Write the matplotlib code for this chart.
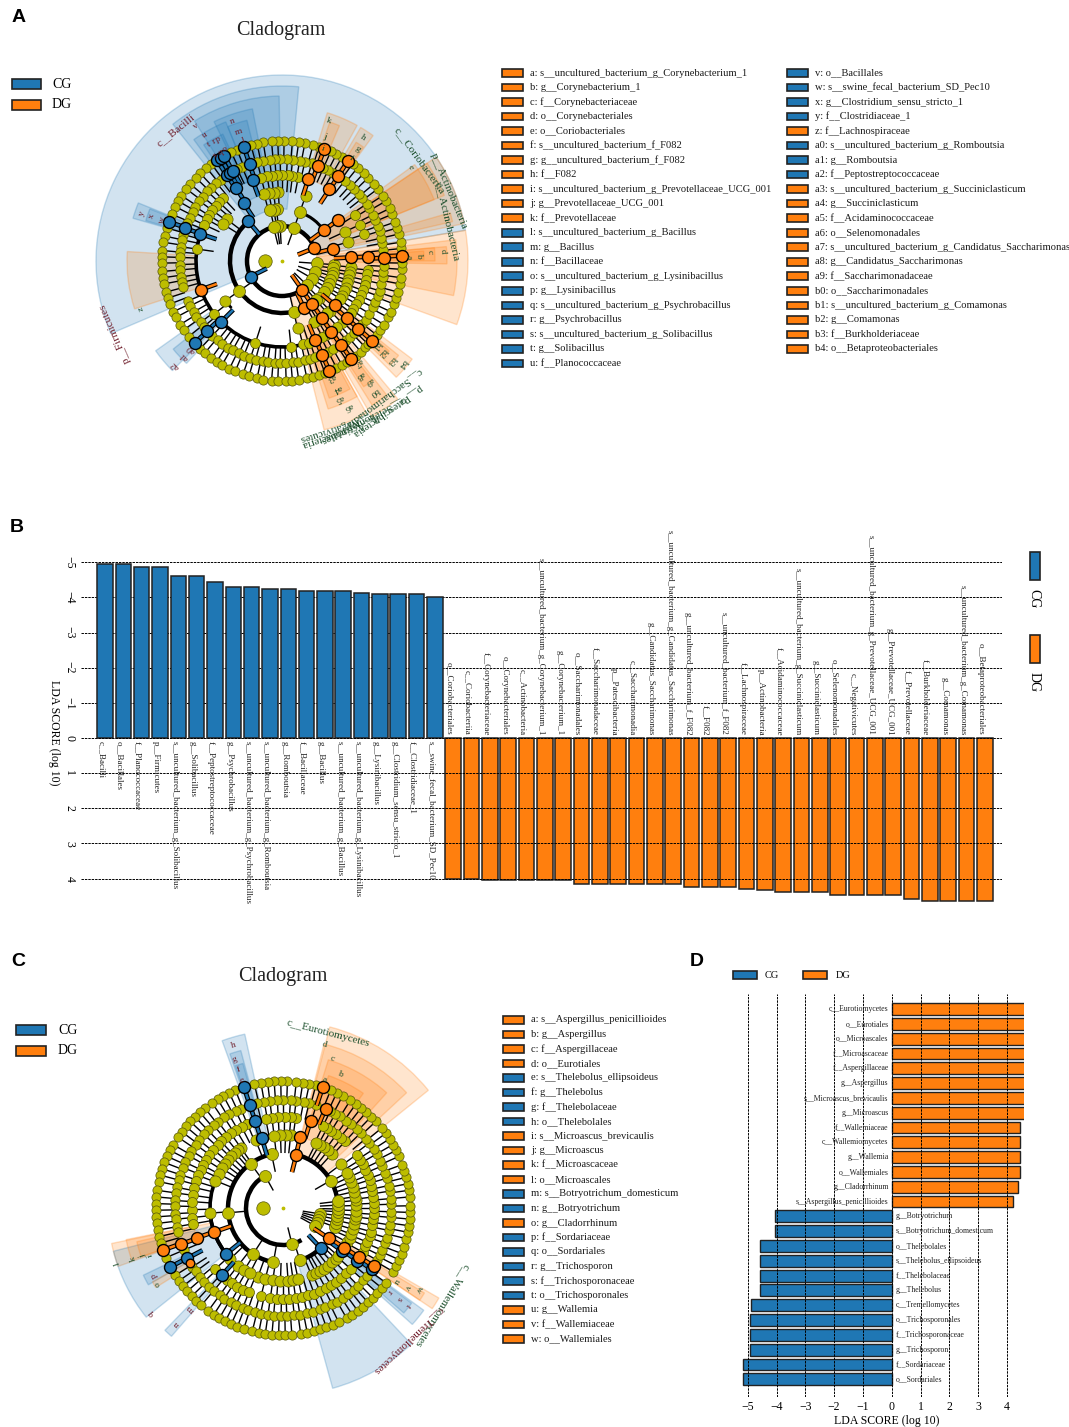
import matplotlib
matplotlib.use('Agg')
import numpy as np
import matplotlib.pyplot as plt
from matplotlib.patches import Wedge, Arc, Rectangle
from matplotlib.collections import LineCollection
from matplotlib.colors import to_rgba

plt.rcParams['font.family'] = ['Liberation Serif', 'DejaVu Serif']

W, H = 1069, 1427
BLUE = '#1f77b4'
ORANGE = '#ff7f0e'
OLIVE = '#bdbd00'
RED_TXT = '#6f1d2a'
GREEN_TXT = '#1c4f2c'

# ---- panel A legend
a_legend_1 = ['a: s__uncultured_bacterium_g_Corynebacterium_1', 'b: g__Corynebacterium_1',
              'c: f__Corynebacteriaceae', 'd: o__Corynebacteriales', 'e: o__Coriobacteriales',
              'f: s__uncultured_bacterium_f_F082', 'g: g__uncultured_bacterium_f_F082', 'h: f__F082',
              'i: s__uncultured_bacterium_g_Prevotellaceae_UCG_001', 'j: g__Prevotellaceae_UCG_001',
              'k: f__Prevotellaceae', 'l: s__uncultured_bacterium_g_Bacillus', 'm: g__Bacillus',
              'n: f__Bacillaceae', 'o: s__uncultured_bacterium_g_Lysinibacillus', 'p: g__Lysinibacillus',
              'q: s__uncultured_bacterium_g_Psychrobacillus', 'r: g__Psychrobacillus',
              's: s__uncultured_bacterium_g_Solibacillus', 't: g__Solibacillus', 'u: f__Planococcaceae']
a_groups_1 = 'DDDDDDDDDDDCCCCCCCCCC'
a_legend_2 = ['v: o__Bacillales', 'w: s__swine_fecal_bacterium_SD_Pec10', 'x: g__Clostridium_sensu_stricto_1',
              'y: f__Clostridiaceae_1', 'z: f__Lachnospiraceae', 'a0: s__uncultured_bacterium_g_Romboutsia',
              'a1: g__Romboutsia', 'a2: f__Peptostreptococcaceae', 'a3: s__uncultured_bacterium_g_Succiniclasticum',
              'a4: g__Succiniclasticum', 'a5: f__Acidaminococcaceae', 'a6: o__Selenomonadales',
              'a7: s__uncultured_bacterium_g_Candidatus_Saccharimonas', 'a8: g__Candidatus_Saccharimonas',
              'a9: f__Saccharimonadaceae', 'b0: o__Saccharimonadales', 'b1: s__uncultured_bacterium_g_Comamonas',
              'b2: g__Comamonas', 'b3: f__Burkholderiaceae', 'b4: o__Betaproteobacteriales']
a_groups_2 = 'CCCCDCCCDDDDDDDDDDDD'

# ---- panel C legend
c_legend = ['a: s__Aspergillus_penicillioides', 'b: g__Aspergillus', 'c: f__Aspergillaceae', 'd: o__Eurotiales',
            'e: s__Thelebolus_ellipsoideus', 'f: g__Thelebolus', 'g: f__Thelebolaceae', 'h: o__Thelebolales',
            'i: s__Microascus_brevicaulis', 'j: g__Microascus', 'k: f__Microascaceae', 'l: o__Microascales',
            'm: s__Botryotrichum_domesticum', 'n: g__Botryotrichum', 'o: g__Cladorrhinum', 'p: f__Sordariaceae',
            'q: o__Sordariales', 'r: g__Trichosporon', 's: f__Trichosporonaceae', 't: o__Trichosporonales',
            'u: g__Wallemia', 'v: f__Wallemiaceae', 'w: o__Wallemiales']
c_groups = 'DDDDCCCCDDDDCCDCCCCCDDD'

# ---- panel B bars
b_cg_names = ['c__Bacilli', 'o__Bacillales', 'f__Planococcaceae', 'p__Firmicutes',
              's__uncultured_bacterium_g_Solibacillus', 'g__Solibacillus', 'f__Peptostreptococcaceae',
              'g__Psychrobacillus', 's__uncultured_bacterium_g_Psychrobacillus',
              's__uncultured_bacterium_g_Romboutsia', 'g__Romboutsia', 'f__Bacillaceae', 'g__Bacillus',
              's__uncultured_bacterium_g_Bacillus', 's__uncultured_bacterium_g_Lysinibacillus',
              'g__Lysinibacillus', 'g__Clostridium_sensu_stricto_1', 'f__Clostridiaceae_1',
              's__swine_fecal_bacterium_SD_Pec10']
b_cg_values = [-4.96, -4.96, -4.87, -4.87, -4.60, -4.60, -4.43, -4.30, -4.30, -4.24, -4.24, -4.19, -4.19,
               -4.19, -4.12, -4.11, -4.10, -4.10, -4.01]
b_dg_names = ['o__Coriobacteriales', 'c__Coriobacteriia', 'f__Corynebacteriaceae', 'o__Corynebacteriales',
              'c__Actinobacteria', 's__uncultured_bacterium_g_Corynebacterium_1', 'g__Corynebacterium_1',
              'o__Saccharimonadales', 'f__Saccharimonadaceae', 'p__Patescibacteria', 'c__Saccharimonadia',
              'g__Candidatus_Saccharimonas', 's__uncultured_bacterium_g_Candidatus_Saccharimonas',
              'g__uncultured_bacterium_f_F082', 'f__F082', 's__uncultured_bacterium_f_F082', 'f__Lachnospiraceae',
              'p__Actinobacteria', 'f__Acidaminococcaceae', 's__uncultured_bacterium_g_Succiniclasticum',
              'g__Succiniclasticum', 'o__Selenomonadales', 'c__Negativicutes',
              's__uncultured_bacterium_g_Prevotellaceae_UCG_001', 'g__Prevotellaceae_UCG_001', 'f__Prevotellaceae',
              'f__Burkholderiaceae', 'g__Comamonas', 's__uncultured_bacterium_g_Comamonas',
              'o__Betaproteobacteriales']
b_dg_values = [4.01, 4.01, 4.03, 4.03, 4.03, 4.03, 4.05, 4.16, 4.16, 4.16, 4.16, 4.16, 4.16, 4.23, 4.23, 4.23,
               4.31, 4.33, 4.39, 4.39, 4.39, 4.47, 4.47, 4.47, 4.47, 4.58, 4.63, 4.63, 4.63, 4.65]

# ---- panel D bars, top to bottom
d_names = ['c__Eurotiomycetes', 'o__Eurotiales', 'o__Microascales', 'f__Microascaceae', 'f__Aspergillaceae',
           'g__Aspergillus', 's__Microascus_brevicaulis', 'g__Microascus', 'f__Wallemiaceae', 'c__Wallemiomycetes',
           'g__Wallemia', 'o__Wallemiales', 'g__Cladorrhinum', 's__Aspergillus_penicillioides', 'g__Botryotrichum',
           's__Botryotrichum_domesticum', 'o__Thelebolales', 's__Thelebolus_ellipsoideus', 'f__Thelebolaceae',
           'g__Thelebolus', 'c__Tremellomycetes', 'o__Trichosporonales', 'f__Trichosporonaceae', 'g__Trichosporon',
           'f__Sordariaceae', 'o__Sordariales']
d_values = [4.83, 4.83, 4.83, 4.83, 4.81, 4.76, 4.73, 4.73, 4.46, 4.46, 4.46, 4.46, 4.39, 4.22, -4.06, -4.06,
            -4.58, -4.58, -4.58, -4.58, -4.89, -4.92, -4.92, -4.93, -5.18, -5.18]

# ---- cladogram A: ring radii in px, node angles in degrees per ring
a_radii = [17, 35, 52, 69, 86, 102, 120]
a_ring0 = [180]
a_ring1 = [70, 93, 98, 104, -4, -18, -30, -44]
a_ring2 = [70, 96, 99, 103, 215, -77, -4, -8, -13, -17, -22, -26, -31, -36, -45, -49]
a_ring3 = [70, 93, 97, 101, 105, 25, 16, 143, 148, 215, -77, -5, -9, -12, -16, -19, -23, -26, -30, -33, -46, -49,
           -59, -62]
a_ring4 = [172, 218, 252, -84, -76, 32, 25, 18, 79, 83, 86, 90, 93, 97, 100, 104, 133, 137, 140, 144, 148, 151, 155,
           -6, -9, -13, -16, -20, -23, -27, -30, -34, -37, -46, -50, -59, -62, -72]
a_ring5 = [-38, -35, -31, -27, -24, -20, -17, -13, -9, -6, -3, 6, 10, 13, 17, 20, 24, 27, 31, 34, 38, 41, 45, 48, 52,
           60, 63, 66, 73, 77, 80, 84, 87, 91, 94, 97, 101, 104, 113, 116, 127, 130, 134, 137, 141, 144, 148, 151,
           155, 158, 165, 168, 172, 175, 178, 182, 185, 189, 192, 195, 203, 206, 210, 213, 217, 220, 227, 231, 234,
           238, 241, 245, 248, 252, 255, 259, 262, 266, 269, 272, 276, 279, 283, 286, 289, 297, 300, 309, 312, 315]
a_ring6 = [-38, -35, -32, -28, -25, -21, -18, -15, -11, -8, -4, -1, 6, 9, 13, 16, 19, 23, 26, 30, 33, 37, 40, 44, 47,
           51, 54, 60, 63, 66, 72, 75, 79, 82, 85, 89, 92, 95, 99, 102, 105, 112, 115, 126, 129, 133, 136, 140, 143,
           147, 150, 153, 157, 164, 168, 171, 175, 178, 181, 185, 188, 191, 195, 198, 201, 205, 208, 212, 215, 219,
           227, 230, 234, 237, 240, 244, 247, 251, 254, 258, 261, 265, 268, 272, 275, 278, 282, 285, 288, 291, 297,
           300, 303, 308, 311, 314, 316]
a_blue = [(6, 160.9), (5, 161.4), (4, 161.6), (6, 223.2), (5, 223), (4, 225), (1, 206.3), (2, 130.3), (3, 123.5),
          (4, 122.1), (5, 122.6), (5, 120.5), (5, 118.5), (6, 122.8), (6, 120.8), (6, 118.8), (6, 108.5), (5, 108.5),
          (4, 110)]
a_orange = [(1, 21.8), (2, 13.5), (2, 36.2), (3, 36.3), (3, 3), (4, 2.9), (5, 1.7), (6, 2.6), (4, 72.2), (5, 69.4),
            (6, 69.3), (4, 56.5), (5, 56.4), (6, 56.6), (4, 199.4), (1, -54.8), (2, -65), (2, -55.3), (4, -67.1),
            (5, -66.8), (6, -66.7), (3, -55), (4, -55.1), (5, -55), (6, -54.8), (3, -39.9), (4, -41.4), (5, -41.5),
            (6, -41.5)]
a_arcs = [(1, 22, 305, 3.2), (2, 130, 283, 3.2), (2, 36, 70, 2.2), (4, 161, 218, 2.6), (4, 225, 284, 2.6),
          (3, 215, 223, 2)]
# theta1, theta2, inner px, outer px, colour, strength
a_sectors = [(9.5, 203, 35, 186, BLUE), (-20, 9.5, 35, 186, ORANGE), (11.6, 34, 35, 186, ORANGE),
             (22, 36, 52, 164, ORANGE), (22, 34, 69, 175, ORANGE), (13, 16, 69, 175, ORANGE), (-11.4, 7, 35, 175, ORANGE),
             (-1, 5, 69, 165, ORANGE), (0, 5, 86, 153, ORANGE), (0.5, 4, 102, 142, ORANGE),
             (61, 73, 86, 155, ORANGE), (67, 71, 102, 147, ORANGE), (54, 59.5, 86, 155, ORANGE), (54.5, 58, 102, 140, ORANGE),
             (84.5, 128.6, 52, 175, BLUE), (91, 122, 69, 165, BLUE), (101, 116, 86, 155, BLUE), (104, 112, 102, 145, BLUE),
             (112, 126, 86, 150, BLUE), (115, 124, 102, 140, BLUE), (158, 164, 86, 155, BLUE), (158.5, 163.5, 102, 142, BLUE),
             (176.5, 198, 86, 155, ORANGE), (215.4, 225, 86, 155, BLUE), (219, 227, 102, 140, BLUE),
             (-76, -61, 35, 174, ORANGE), (-72.7, -61, 69, 155, ORANGE), (-71, -62, 86, 145, ORANGE),
             (-60, -50, 35, 180, ORANGE), (-58, -52, 52, 170, ORANGE), (-57, -53, 69, 150, ORANGE),
             (-45.5, -37, 52, 163, ORANGE), (-44, -39, 69, 150, ORANGE), (-43, -40, 86, 140, ORANGE)]
a_big_labels = [('c__Bacilli', 129, 168, 'r'), ('p__Firmicutes', 203.5, 182, 'r'), ('p__Actinobacteria', 22.6, 181, 'g'),
                ('c__Coriobacteriia', 36, 170, 'g'), ('c__Actinobacteria', 13.4, 170, 'g'),
                ('p__Patescibacteria', -55, 183, 'g'), ('c__Saccharimonadia', -53.5, 171, 'g'),
                ('p__Actinobacteria', -71, 180, 'g'), ('c__Negativicutes', -72, 175, 'g'),
                ('o__Selenomonadales', -63, 179, 'g')]
a_letters = [('k', 71.7, 148, 'g'), ('j', 71, 132, 'g'), ('i', 70, 120, 'g'), ('h', 56.6, 148, 'g'), ('g', 56, 135, 'g'),
             ('f', 56, 124, 'g'), ('e', 36, 159, 'g'), ('d', 3.6, 161, 'g'), ('c', 3.6, 148, 'g'), ('b', 2.2, 137, 'g'),
             ('a', 2, 127, 'g'), ('n', 109.4, 148, 'r'), ('m', 108.5, 136, 'r'), ('l', 108, 126, 'r'), ('v', 122.4, 160, 'r'),
             ('u', 121.4, 148, 'r'), ('t', 122, 137, 'r'), ('r', 119.6, 138, 'r'), ('p', 117.6, 137, 'r'), ('s', 122.5, 125, 'r'),
             ('q', 119.5, 125, 'r'), ('o', 117, 125, 'r'), ('y', 161.3, 148, 'r'), ('x', 161, 138, 'r'), ('w', 161, 127, 'r'),
             ('z', 198.5, 149, 'g'), ('a2', 224.3, 149, 'r'), ('a1', 224.2, 137, 'r'), ('a0', 224, 127, 'r'),
             ('a3', -67, 127, 'g'), ('a4', -66.6, 139, 'g'), ('a5', -67.6, 149, 'g'), ('a6', -65.4, 160, 'g'),
             ('a7', -53, 127, 'g'), ('a8', -55.5, 138, 'g'), ('a9', -54, 148, 'g'), ('b0', -54.3, 160, 'g'),
             ('b1', -41.5, 127, 'g'), ('b2', -42, 136, 'g'), ('b3', -42, 148, 'g'), ('b4', -40, 159, 'g')]

# ---- cladogram C
c_radii = [20, 37, 55, 73, 91, 108, 127]
c_ring0 = [180]
c_ring1 = [119, -76, -9, -14, -19, -24, -29]
c_ring2 = [185, 126, 102, 30, 237, 260, -72, -20, -16, -12, -8, -4, -1, 3, 7]
c_ring3 = [184, 125, 37, 250, -28, -24, -21, -17, -13, -9, -6, -2, 2, 6, 9, 13, 17, 21, 25, 29, 48, 52, 56, 60, 63,
           84, 88, 92, 97, 112, 128, 131, 135, 139, 143, 147, 152, 158, 224, 232, 238, 243, 256, 262, 268, -86, -82, -78,
           -67, -63, -60, -56, -52, -48, -44, -41]
c_ring4 = [181, 256, -29, -25, -22, -18, -15, -11, -7, -4, 0, 3, 7, 11, 14, 18, 21, 25, 29, 32, 36, 47, 50, 54, 58, 61, 64,
           82, 85, 89, 93, 97, 101, 113, 117, 121, 125, 129, 133, 136, 140, 144, 148, 152, 155, 159, 163, 167, 172, 176,
           186, 190, 222, 232, 236, 240, 244, 248, 262, 266, 270, 274, 278, 282, 286, 290, 294, 298, 302, 306, 310, 314,
           318]
c_ring5 = [-29, -26, -23, -19, -16, -12, -9, -5, -2, 2, 5, 9, 12, 16, 19, 23, 26, 30, 33, 37, 40, 44, 47, 51, 54, 58, 61,
           64, 72, 76, 79, 83, 86, 90, 93, 97, 100, 104, 113, 116, 120, 123, 127, 130, 134, 137, 141, 144, 148, 151, 155,
           158, 162, 165, 169, 172, 176, 179, 183, 186, 190, 193, 203, 213, 216, 220, 223, 227, 230, 234, 237, 241, 244, 248,
           251, 255, 258, 262, 265, 269, 272, 276, 279, 283, 286, 290, 293, 297, 300, 304, 307, 311, 314, 318, 321]
c_ring6 = [-30, -27, -24, -21, -18, -14, -11, -8, -5, -2, 1, 5, 8, 11, 14, 17, 20, 24, 27, 30, 33, 36, 39, 43, 46, 49, 52,
           55, 58, 62, 65, 68, 75, 78, 81, 84, 88, 91, 94, 97, 100, 103, 112, 115, 118, 121, 124, 128, 131, 134, 137, 140,
           143, 146, 150, 153, 156, 159, 162, 165, 168, 172, 175, 178, 181, 184, 187, 190, 193, 196, 203, 212, 215, 218,
           221, 224, 227, 230, 234, 237, 240, 243, 246, 249, 252, 256, 259, 262, 265, 268, 271, 274, 278, 281, 284, 287,
           290, 293, 296, 300, 303, 306, 309, 312, 315, 318, 321, 324]
c_blue = [(2, -46.7), (3, 218.9), (4, 227.7), (3, 106.9), (4, 107.7), (5, 107.8), (6, 107.9), (5, 207.7), (6, 207.6),
          (3, -36), (4, -35.4), (5, -34.7)]
c_orange = [(2, -33.5), (3, -33), (4, -32.9), (5, -32.7), (2, 75.9), (3, 76.3), (4, 72.4), (5, 66.8), (6, 71.8),
            (3, 199.2), (4, 199.1), (5, 199.5), (6, 199.3)]
c_small_orange = [(5, 210.8)]
c_arcs = [(1, -60, 119, 0), (1, 119, 300, 3.2), (2, 102, 260, 3.2), (2, -15, 76, 3.2), (3, 125, 250, 2.6), (3, 184, 219, 2.6),
          (2, -72, -47, 3.2), (3, -36, -20, 2)]
c_sectors = [(39, 75.5, 55, 187, ORANGE), (43, 76, 73, 169, ORANGE), (48, 73, 91, 155, ORANGE), (55, 71, 108, 140, ORANGE),
             (102.4, 110, 73, 178, BLUE), (105, 109, 91, 163, BLUE), (105.5, 108.5, 108, 150, BLUE),
             (191.7, 199.5, 73, 175, ORANGE), (194.3, 218.6, 73, 175, BLUE), (191.4, 199, 91, 160, ORANGE),
             (193, 199, 108, 150, ORANGE), (205.7, 209.7, 108, 155, BLUE), (209.5, 212, 108, 150, ORANGE),
             (226, 229, 91, 170, BLUE), (-74.6, -46.7, 55, 187, BLUE), (-42, -36, 73, 174, BLUE), (-41, -36.5, 91, 160, BLUE),
             (-34, -30, 55, 180, ORANGE), (-34, -31, 73, 165, ORANGE)]
c_big_labels = [('c__Eurotiomycetes', 75.5, 180, 'g'), ('c__Wallemiomycetes', -31.6, 186, 'g'),
                ('c__Tremellomycetes', -46.6, 182, 'r')]
c_letters = [('a', 72, 135, 'g'), ('b', 66.9, 146, 'g'), ('c', 71.7, 157, 'g'), ('d', 75.8, 169, 'g'), ('h', 107, 170, 'r'),
             ('g', 108, 156, 'r'), ('f', 108, 145, 'r'), ('e', 108, 134, 'r'), ('l', 198.4, 174, 'g'), ('k', 198.7, 158, 'g'),
             ('j', 199, 148, 'g'), ('i', 199.5, 141, 'g'), ('q', 218.7, 169, 'r'), ('n', 227.5, 157, 'r'), ('m', 227.5, 137, 'r'),
             ('o', 211.2, 146, 'g'), ('p', 207.7, 145, 'r'), ('u', -33, 135, 'g'), ('v', -32.5, 148, 'g'), ('w', -31, 158, 'g'),
             ('r', -38, 135, 'r'), ('s', -38, 147, 'r'), ('t', -38, 158, 'r')]

fig = plt.figure(figsize=(W / 100, H / 100), dpi=100)


def px_axes(x0, y0, x1, y1, **kw):
    return fig.add_axes([x0 / W, 1 - y1 / H, (x1 - x0) / W, (y1 - y0) / H], **kw)


canvas = px_axes(0, 0, W, H)
canvas.set_xlim(0, W)
canvas.set_ylim(H, 0)
canvas.axis('off')


def swatch(x0, y0, x1, y1, group, lw=1.2):
    color = BLUE if group == 'C' else ORANGE
    canvas.add_patch(Rectangle((x0, y0), x1 - x0, y1 - y0, fc=color, ec='#222222', lw=lw))


def legend_column(names, groups, x, y0, step=14.52):
    for i, name in enumerate(names):
        y = y0 + i * step
        swatch(x, y - 3.8, x + 21, y + 3.8, groups[i])
        canvas.text(x + 28, y, name, fontsize=7.6, va='center', ha='left', color='#1a1a1a')


def draw_cladogram(cx, cy, radii, rings, blue, orange, small_orange, arcs, sectors, big_labels, letters):
    half = 215
    ax = px_axes(cx - half, cy - half, cx + half, cy + half)
    ax.set_xlim(-half, half)
    ax.set_ylim(-half, half)
    ax.axis('off')
    ax.patch.set_alpha(0)

    for t1, t2, r0, r1, col in sectors:
        ax.add_patch(Wedge((0, 0), r1, t1, t2, width=r1 - r0, fc=to_rgba(col, 0.2), ec=to_rgba(col, 0.25), lw=1, zorder=1))

    def pos(r, ang):
        a = np.deg2rad(ang)
        return r * np.cos(a), r * np.sin(a)

    # black lines
    segs = []
    for ring, angles in enumerate(rings):
        if ring == 0:
            continue
        for ang in angles:
            segs.append([pos(radii[ring], ang), pos(radii[ring - 1], ang)])
    ax.add_collection(LineCollection(segs, colors='black', linewidths=1.0, zorder=2))
    for ring, t1, t2, lw in arcs:
        if lw:
            ax.add_patch(Arc((0, 0), 2 * radii[ring], 2 * radii[ring], theta1=t1, theta2=t2, color='black', lw=lw, zorder=2))

    ax.scatter([0], [0], s=3, color=OLIVE, zorder=3)

    yellow_r = [6.7, 6.0, 6.0, 5.6, 5.0, 4.7, 4.6]
    for ring, angles in enumerate(rings):
        xy = np.array([pos(radii[ring], a) for a in angles])
        size = (2 * yellow_r[ring] * 0.72) ** 2
        ax.scatter(xy[:, 0], xy[:, 1], s=size, color=OLIVE, edgecolors='#55550a', linewidths=0.5, zorder=3)

    for nodes, col in ((blue, BLUE), (orange, ORANGE)):
        for ring, ang in nodes:
            p0, p1 = pos(radii[ring], ang), pos(radii[ring - 1], ang)
            ax.plot([p0[0], p1[0]], [p0[1], p1[1]], color='black', lw=3.4, zorder=3.5, solid_capstyle='butt')
            ax.plot([p0[0], p1[0]], [p0[1], p1[1]], color=col, lw=1.8, zorder=3.6, solid_capstyle='butt')
        xy = np.array([pos(radii[r], a) for r, a in nodes])
        ax.scatter(xy[:, 0], xy[:, 1], s=(2 * 6 * 0.72) ** 2, color=col, edgecolors='black', linewidths=1.0, zorder=4)
    if small_orange:
        xy = np.array([pos(radii[r], a) for r, a in small_orange])
        ax.scatter(xy[:, 0], xy[:, 1], s=(2 * 4.3 * 0.72) ** 2, color=ORANGE, edgecolors='black', linewidths=1.0, zorder=4)

    for items, fs in ((big_labels, 8.0), (letters, 6.8)):
        for txt, ang, r, kind in items:
            x, y = pos(r, ang)
            ax.text(x, y, txt, rotation=ang - 90, rotation_mode='anchor', ha='center', va='center', fontsize=fs,
                    color=RED_TXT if kind == 'r' else GREEN_TXT, zorder=5)


# panel letters and titles
for letter, x, y in [('A', 19, 18), ('B', 17, 527), ('C', 18, 961), ('D', 697, 961)]:
    canvas.text(x, y, letter, fontsize=14, fontweight='bold', family='Liberation Sans', ha='center', va='center')
canvas.text(281, 30, 'Cladogram', fontsize=14.5, ha='center', va='center', color='#222222')
canvas.text(283, 976, 'Cladogram', fontsize=14.5, ha='center', va='center', color='#222222')

swatch(12, 79, 41, 89, 'C')
swatch(12, 100, 41, 110, 'D')
canvas.text(52, 84, 'CG', fontsize=10, va='center')
canvas.text(52, 105, 'DG', fontsize=10, va='center')
swatch(16, 1025, 46, 1035, 'C')
swatch(16, 1046, 46, 1056, 'D')
canvas.text(58, 1030, 'CG', fontsize=10, va='center')
canvas.text(58, 1051, 'DG', fontsize=10, va='center')

legend_column(a_legend_1, a_groups_1, 502, 73)
legend_column(a_legend_2, a_groups_2, 787, 73)
legend_column(c_legend, c_groups, 503, 1020, 14.5)

draw_cladogram(282, 261, a_radii, [a_ring0, a_ring1, a_ring2, a_ring3, a_ring4, a_ring5, a_ring6],
               a_blue, a_orange, [], a_arcs, a_sectors, a_big_labels, a_letters)
draw_cladogram(283, 1208, c_radii, [c_ring0, c_ring1, c_ring2, c_ring3, c_ring4, c_ring5, c_ring6],
               c_blue, c_orange, c_small_orange, c_arcs, c_sectors, c_big_labels, c_letters)

# panel B, the bar chart is turned on its side
bx0, bx1, by0, by1 = 81, 1002, 555, 905
unit_b = 35.15
step_b = 18.33
ax = px_axes(bx0, by0, bx1, by1)
ax.patch.set_alpha(0)
ax.set_xlim((bx0 - 105) / step_b, (bx1 - 105) / step_b)
ax.set_ylim((by1 - 738) / unit_b, (by0 - 738) / unit_b)
n_cg = len(b_cg_values)
x_cg = np.arange(n_cg)
x_dg = np.arange(len(b_dg_values)) + n_cg
ax.bar(x_cg, b_cg_values, width=0.85, color=BLUE, edgecolor='#222222', linewidth=1.1, zorder=2)
ax.bar(x_dg, b_dg_values, width=0.85, color=ORANGE, edgecolor='#222222', linewidth=1.1, zorder=2)
for tick in range(-5, 5):
    ax.axhline(tick, color='black', lw=0.7, ls=(0, (2.5, 1)), zorder=1 if tick < 0 else 3)
for i, name in enumerate(b_cg_names):
    ax.text(x_cg[i] - 0.22, 0.08, name, rotation=270, ha='center', va='top', fontsize=6.5, color='#222222', zorder=4)
for i, name in enumerate(b_dg_names):
    ax.text(x_dg[i] - 0.22, -0.08, name, rotation=270, ha='center', va='bottom', fontsize=6.5, color='#222222', zorder=4)
ax.set_xticks([])
ax.set_yticks(range(-5, 5))
ax.tick_params(axis='y', length=0, pad=4, labelsize=8.5)
for lab in ax.get_yticklabels():
    lab.set_rotation(270)
    lab.set_va('center')
for s in ax.spines.values():
    s.set_visible(False)
canvas.text(54, 733, 'LDA SCORE (log 10)', rotation=270, fontsize=8.5, ha='center', va='center')
swatch(1030, 552, 1040, 580, 'C')
swatch(1030, 635, 1040, 663, 'D')
canvas.text(1034, 599, 'CG', rotation=270, fontsize=10, ha='center', va='center')
canvas.text(1034, 682, 'DG', rotation=270, fontsize=10, ha='center', va='center')

# panel D
dx0, dx1, dy0, dy1 = 735, 1024, 994, 1397
unit_d = 28.8
step_d = 14.81
ax = px_axes(dx0, dy0, dx1, dy1)
ax.patch.set_alpha(0)
ax.set_xlim((dx0 - 891.7) / unit_d, (dx1 - 891.7) / unit_d)
ax.set_ylim((dy1 - 1009) / step_d, (dy0 - 1009) / step_d)
d_colors = [ORANGE if v > 0 else BLUE for v in d_values]
ax.barh(np.arange(len(d_values)), d_values, height=0.8, color=d_colors, edgecolor='#222222', linewidth=1.0, zorder=2)
for tick in range(-5, 5):
    ax.axvline(tick, color='black', lw=0.7, ls=(0, (2.5, 1)), zorder=3)
for i, name in enumerate(d_names):
    if d_values[i] > 0:
        ax.text(-0.11, i, name, ha='right', va='center', fontsize=5.6, color='#222222', zorder=4)
    else:
        ax.text(0.13, i, name, ha='left', va='center', fontsize=5.6, color='#222222', zorder=4)
ax.set_yticks([])
ax.set_xticks(range(-5, 5))
ax.tick_params(axis='x', length=0, pad=3, labelsize=8.5)
for s in ax.spines.values():
    s.set_visible(False)
canvas.text(887, 1421, 'LDA SCORE (log 10)', fontsize=8.5, ha='center', va='center')
swatch(733, 971, 757, 979, 'C')
swatch(803, 971, 827, 979, 'D')
canvas.text(765, 975, 'CG', fontsize=7.5, va='center')
canvas.text(836, 975, 'DG', fontsize=7.5, va='center')

fig.savefig('out.png', dpi=100)
